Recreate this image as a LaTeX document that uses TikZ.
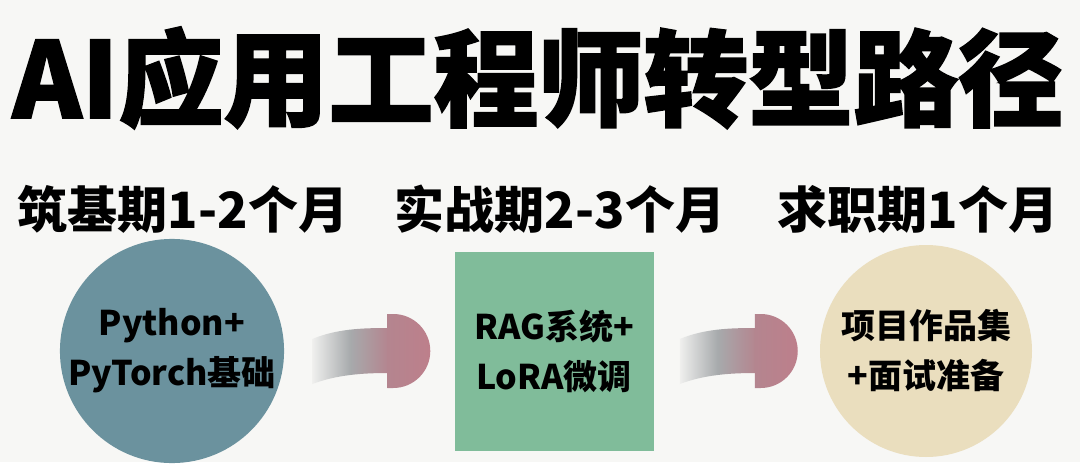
\documentclass[tikz,border=0pt]{standalone}
\usepackage{fontspec}
\newfontfamily\cjk{Noto Sans CJK SC}
\newfontfamily\cjkheavy[FakeBold=1.6]{Noto Sans CJK SC}
\usetikzlibrary{positioning, calc}
\definecolor{bgpaper}{HTML}{F7F7F5}
\definecolor{stageblue}{HTML}{6B929E}
\definecolor{stagegreen}{HTML}{80BC9A}
\definecolor{stagesand}{HTML}{EADEBE}
\definecolor{arrowgray}{HTML}{A7AAAC}
\definecolor{arrowrose}{HTML}{B4858F}
\definecolor{headrose}{HTML}{BD7F8B}
\tikzstyle{phase} = [font=\cjk\bfseries\fontsize{50}{56}\selectfont, anchor=base]
\tikzstyle{stage} = [align=center, inner sep=0pt, font=\cjk\bfseries\fontsize{34}{50}\selectfont]
\tikzset{
  flowarrow/.pic={
    \shade[left color=bgpaper!90!arrowgray, right color=arrowrose, middle color=arrowgray]
      (-57,-12) .. controls (-33,-22) and (-8,-23) .. (19,-23)
      -- (19,22) .. controls (-8,22) and (-33,24) .. (-57,33) -- cycle;
    \shade[left color=arrowrose, right color=headrose]
      (18,-37) -- (24,-37) arc[start angle=-90, end angle=90, radius=37] -- (18,37) -- cycle;
  }
}

\begin{document}
\begin{tikzpicture}[x=1pt, y=-1pt]
    \fill[bgpaper] (0,0) rectangle (1080,462);
    \node[font=\cjkheavy\bfseries\fontsize{105}{110}\selectfont, anchor=base] (title) at (538,118) {AI应用工程师转型路径};
    \node[phase] (p1) at (183,228) {筑基期1-2个月};
    \node[phase] (p2) at (560,228) {实战期2-3个月};
    \node[phase] (p3) at (918,228) {求职期1个月};
    \node[stage, circle, fill=stageblue, minimum size=214pt] (found) at (172,351) {Python+\\PyTorch基础};
    \node[stage, rectangle, fill=stagegreen, minimum size=199pt, right of=found, node distance=382pt] (build) {RAG系统+\\LoRA微调};
    \node[stage, circle, fill=stagesand, minimum size=212pt, right of=build, node distance=372pt] (hunt) {项目作品集\\+面试准备};
    \pic at ($(found.east)!0.5!(build.west)$) {flowarrow};
    \pic at ($(build.east)!0.5!(hunt.west)$) {flowarrow};
\end{tikzpicture}
\end{document}
